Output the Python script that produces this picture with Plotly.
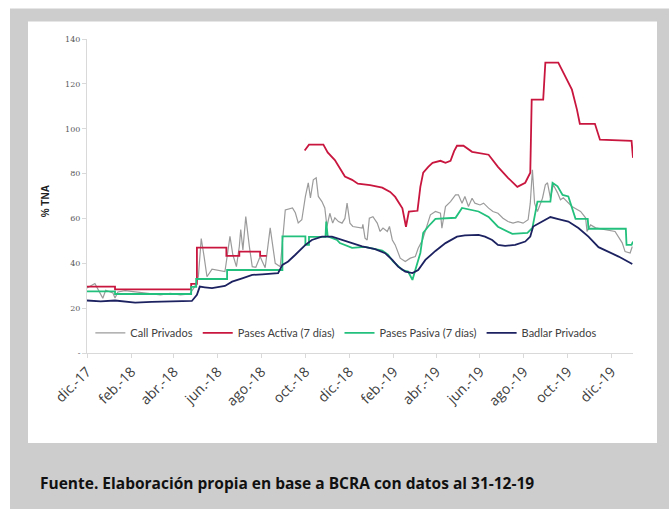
import plotly.graph_objects as go

# ---- Call Privados (daily interbank call rate, private banks) ----
call_dates = [
    "2017-12-01", "2017-12-12", "2017-12-19", "2017-12-23", "2017-12-27", "2018-01-06",
    "2018-01-09", "2018-01-13", "2018-01-23", "2018-02-13", "2018-02-27", "2018-03-13",
    "2018-03-27", "2018-04-10", "2018-04-23", "2018-04-30", "2018-05-05", "2018-05-09",
    "2018-05-13", "2018-05-17", "2018-05-24", "2018-06-01", "2018-06-11", "2018-06-15",
    "2018-06-18", "2018-06-22", "2018-06-27", "2018-07-01", "2018-07-03", "2018-07-06",
    "2018-07-10", "2018-07-15", "2018-07-19", "2018-07-24", "2018-07-30", "2018-08-02",
    "2018-08-06", "2018-08-13", "2018-08-20", "2018-08-27", "2018-08-31", "2018-09-03",
    "2018-09-13", "2018-09-17", "2018-09-21", "2018-09-26", "2018-10-01", "2018-10-05",
    "2018-10-08", "2018-10-12", "2018-10-16", "2018-10-19", "2018-10-24", "2018-10-28",
    "2018-10-31", "2018-11-04", "2018-11-08", "2018-11-11", "2018-11-16", "2018-11-21",
    "2018-11-25", "2018-11-28", "2018-12-02", "2018-12-06", "2018-12-19", "2018-12-20",
    "2018-12-23", "2018-12-26", "2018-12-29", "2019-01-03", "2019-01-09", "2019-01-13",
    "2019-01-17", "2019-01-23", "2019-01-26", "2019-01-30", "2019-02-03", "2019-02-06",
    "2019-02-10", "2019-02-17", "2019-02-24", "2019-03-03", "2019-03-07", "2019-03-13",
    "2019-03-20", "2019-03-24", "2019-03-31", "2019-04-07", "2019-04-09", "2019-04-14",
    "2019-04-21", "2019-04-28", "2019-05-02", "2019-05-07", "2019-05-11", "2019-05-16",
    "2019-05-21", "2019-05-25", "2019-06-01", "2019-06-06", "2019-06-13", "2019-06-19",
    "2019-06-26", "2019-07-03", "2019-07-10", "2019-07-17", "2019-07-24", "2019-07-31",
    "2019-08-07", "2019-08-10", "2019-08-13", "2019-08-16", "2019-08-20", "2019-08-27",
    "2019-08-31", "2019-09-03", "2019-09-07", "2019-09-11", "2019-09-17", "2019-09-21",
    "2019-09-25", "2019-10-07", "2019-10-19", "2019-10-26", "2019-10-28", "2019-11-02",
    "2019-11-09", "2019-11-22", "2019-12-06", "2019-12-16", "2019-12-20", "2019-12-27",
    "2019-12-30",
]
call_vals = [
    29.0, 31.0, 26.8, 24.4, 28.0, 26.8,
    24.5, 27.2, 27.8, 26.9, 26.2, 25.9,
    26.6, 25.9, 26.3, 29.6, 34.0, 51.0,
    43.0, 34.0, 37.4, 36.8, 36.3, 45.2,
    52.0, 43.8, 38.5, 47.5, 55.0, 46.0,
    60.8, 47.5, 38.5, 38.2, 43.0, 40.8,
    38.0, 55.8, 40.0, 38.5, 55.0, 63.8,
    64.7, 62.5, 58.0, 59.4, 69.8, 75.9,
    69.2, 77.2, 78.1, 69.8, 67.5, 64.7,
    56.4, 62.3, 57.9, 60.3, 58.6, 57.9,
    60.0, 66.8, 57.9, 56.4, 55.7, 57.4,
    51.2, 50.4, 60.1, 60.8, 57.9, 54.2,
    55.7, 54.2, 56.4, 50.4, 48.2, 45.2,
    42.3, 40.8, 42.3, 43.0, 46.7, 50.4,
    57.9, 61.6, 63.1, 62.3, 55.7, 65.3,
    67.5, 70.5, 70.5, 66.8, 69.8, 65.3,
    69.0, 66.8, 66.0, 66.8, 64.6, 63.1,
    62.3, 60.1, 58.6, 57.9, 58.6, 57.9,
    59.4, 66.8, 81.7, 66.8, 63.1, 69.0,
    75.0, 75.9, 69.2, 75.0, 71.4, 68.3,
    69.2, 65.3, 63.1, 60.3, 54.2, 57.1,
    55.8, 54.9, 54.2, 49.1, 45.2, 44.6,
    47.5,
]

# ---- Pases Activa (7 días): stepwise policy rate, gap Aug-Sep 2018 ----
activa_dates = [
    "2017-12-01", "2018-01-09", "2018-01-09", "2018-04-25", "2018-04-25", "2018-05-03",
    "2018-05-03", "2018-06-13", "2018-06-13", "2018-07-01", "2018-07-01", "2018-07-30",
    "2018-07-30", "2018-08-08", "2018-09-15",
    "2018-09-30", "2018-10-06", "2018-10-26", "2018-11-01", "2018-11-11", "2018-11-25",
    "2018-12-05", "2018-12-13", "2018-12-30", "2019-01-16", "2019-01-27", "2019-02-03",
    "2019-02-13", "2019-02-18", "2019-02-22", "2019-03-06", "2019-03-10", "2019-03-14",
    "2019-03-21", "2019-03-27", "2019-04-07", "2019-04-14", "2019-04-21", "2019-04-26",
    "2019-04-30", "2019-05-09", "2019-05-21", "2019-06-13", "2019-06-26", "2019-07-10",
    "2019-07-23", "2019-08-03", "2019-08-10", "2019-08-12", "2019-08-28", "2019-08-31",
    "2019-09-18", "2019-09-28", "2019-10-07", "2019-10-14", "2019-10-18", "2019-11-08",
    "2019-11-15", "2019-12-29", "2019-12-31",
]
activa_vals = [
    29.6, 29.6, 28.4, 28.4, 30.8, 30.8,
    47.0, 47.0, 43.3, 43.3, 45.2, 45.2,
    43.3, 43.3, None,
    90.3, 92.9, 92.9, 89.4, 86.0, 78.7,
    77.2, 75.5, 74.8, 73.7, 71.8, 69.6,
    64.5, 56.3, 63.0, 63.4, 74.1, 80.4,
    83.0, 84.8, 85.7, 84.8, 85.7, 90.0,
    92.4, 92.4, 89.7, 88.4, 83.0, 78.1,
    74.1, 75.9, 80.4, 113.0, 113.0, 129.5,
    129.5, 123.2, 117.4, 108.5, 102.2, 102.2,
    95.1, 94.6, 87.0,
]

# ---- Pases Pasiva (7 días) ----
pasiva_dates = [
    "2017-12-01", "2018-01-09", "2018-01-09", "2018-04-25", "2018-04-25", "2018-05-02",
    "2018-05-02", "2018-06-14", "2018-06-14", "2018-08-30", "2018-08-30", "2018-10-01",
    "2018-10-01", "2018-10-06", "2018-10-06", "2018-10-29", "2018-10-30", "2018-11-01",
    "2018-11-14", "2018-11-18", "2018-12-05", "2018-12-23", "2019-01-16", "2019-01-24",
    "2019-01-31", "2019-02-07", "2019-02-13", "2019-02-21", "2019-02-27", "2019-03-03",
    "2019-03-10", "2019-03-14", "2019-03-21", "2019-03-31", "2019-04-28", "2019-05-07",
    "2019-05-30", "2019-06-13", "2019-06-26", "2019-07-16", "2019-08-06", "2019-08-13",
    "2019-08-20", "2019-09-07", "2019-09-10", "2019-09-17", "2019-09-24", "2019-10-02",
    "2019-10-12", "2019-10-29", "2019-10-30", "2019-12-21", "2019-12-22", "2019-12-29",
    "2019-12-31",
]
pasiva_vals = [
    27.5, 27.5, 26.3, 26.3, 29.5, 29.5,
    33.0, 33.0, 37.0, 37.0, 52.0, 52.0,
    48.2, 48.2, 51.8, 51.8, 58.6, 52.0,
    50.4, 49.0, 46.9, 47.3, 45.7, 43.8,
    40.8, 38.5, 37.0, 36.3, 32.6, 37.0,
    44.6, 53.6, 56.4, 59.8, 60.3, 64.7,
    63.1, 60.7, 56.3, 53.1, 53.6, 55.8,
    67.5, 67.5, 75.9, 74.3, 70.5, 69.8,
    59.8, 59.8, 55.4, 55.4, 48.2, 48.2,
    49.7,
]

# ---- Badlar Privados ----
badlar_dates = [
    "2017-12-01", "2017-12-20", "2018-01-09", "2018-02-06", "2018-03-01", "2018-03-24",
    "2018-04-26", "2018-05-03", "2018-05-07", "2018-05-14", "2018-05-24", "2018-06-11",
    "2018-06-21", "2018-07-05", "2018-07-19", "2018-08-02", "2018-08-24", "2018-08-30",
    "2018-09-07", "2018-09-17", "2018-10-01", "2018-10-10", "2018-10-24", "2018-11-07",
    "2018-11-21", "2018-12-05", "2018-12-19", "2019-01-06", "2019-01-20", "2019-01-30",
    "2019-02-07", "2019-02-17", "2019-02-27", "2019-03-07", "2019-03-17", "2019-03-31",
    "2019-04-14", "2019-04-30", "2019-05-11", "2019-05-30", "2019-06-08", "2019-06-18",
    "2019-06-26", "2019-07-06", "2019-07-20", "2019-08-03", "2019-08-10", "2019-08-14",
    "2019-08-24", "2019-09-07", "2019-09-18", "2019-10-02", "2019-10-16", "2019-10-30",
    "2019-11-13", "2019-11-27", "2019-12-11", "2019-12-30",
]
badlar_vals = [
    23.4, 23.0, 23.4, 22.5, 22.8, 22.9,
    23.2, 25.9, 29.6, 29.3, 28.9, 29.9,
    31.8, 33.3, 34.8, 35.1, 35.6, 39.3,
    40.8, 43.8, 48.2, 50.4, 51.9, 51.9,
    50.4, 49.0, 47.5, 46.3, 44.5, 41.5,
    38.5, 36.3, 35.6, 37.0, 41.5, 45.5,
    49.0, 51.9, 52.4, 52.7, 51.9, 50.4,
    48.2, 47.8, 48.2, 49.7, 51.9, 56.4,
    58.2, 60.6, 59.7, 58.6, 55.7, 51.9,
    47.2, 45.2, 43.0, 39.7,
]

# ---- axis ticks ----
x_tick_dates = [
    "2017-12-01", "2018-02-01", "2018-04-01", "2018-06-01", "2018-08-01", "2018-10-01",
    "2018-12-01", "2019-02-01", "2019-04-01", "2019-06-01", "2019-08-01", "2019-10-01",
    "2019-12-01",
]
x_tick_labels = [
    "dic.-17", "feb.-18", "abr.-18", "jun.-18", "ago.-18", "oct.-18",
    "dic.-18", "feb.-19", "abr.-19", "jun.-19", "ago.-19", "oct.-19",
    "dic.-19",
]
y_tick_vals = [0, 20, 40, 60, 80, 100, 120, 140]
y_tick_labels = ["-", "20", "40", "60", "80", "100", "120", "140"]

fig = go.Figure()
fig.add_trace(go.Scatter(x=call_dates, y=call_vals, mode="lines", name="Call Privados",
                         line=dict(color="#9b9b9b", width=1.2)))
fig.add_trace(go.Scatter(x=activa_dates, y=activa_vals, mode="lines", name="Pases Activa (7 días)",
                         line=dict(color="#c8163f", width=1.8), connectgaps=False))
fig.add_trace(go.Scatter(x=pasiva_dates, y=pasiva_vals, mode="lines", name="Pases Pasiva (7 días)",
                         line=dict(color="#22c07c", width=1.8)))
fig.add_trace(go.Scatter(x=badlar_dates, y=badlar_vals, mode="lines", name="Badlar Privados",
                         line=dict(color="#1c2160", width=1.8)))

# plot area spans 546 x 313.6 px; frame shapes are placed relative to it
L, T, PW, PH = 87, 39.4, 546, 313.6
def px_x(v):
    return (v - L) / PW
def px_y(v):
    return (T + PH - v) / PH

fig.update_layout(
    width=669, height=509,
    margin=dict(l=L, r=669 - L - PW, t=T, b=509 - T - PH, autoexpand=False),
    paper_bgcolor="white",
    plot_bgcolor="rgba(0,0,0,0)",
    font=dict(family="Lato, Open Sans, sans-serif", color="#404040"),
    showlegend=True,
    legend=dict(orientation="h", x=0.475, xanchor="center", y=px_y(333), yanchor="middle",
                font=dict(size=11, color="#404040"), bgcolor="rgba(0,0,0,0)",
                itemwidth=30, tracegroupgap=0),
    shapes=[
        dict(type="rect", xref="paper", yref="paper", layer="below",
             x0=px_x(10), x1=px_x(680), y0=px_y(520), y1=px_y(9),
             fillcolor="#cdcdcd", line=dict(width=0)),
        dict(type="rect", xref="paper", yref="paper", layer="below",
             x0=px_x(28), x1=px_x(657), y0=px_y(443), y1=px_y(22),
             fillcolor="white", line=dict(width=0)),
    ],
    annotations=[
        dict(text="<b>% TNA</b>", xref="paper", yref="paper", x=px_x(38), y=px_y(202),
             textangle=-90, showarrow=False, font=dict(size=10, color="#202020",
             family="Liberation Sans, Arial, sans-serif")),
        dict(text="<b>Fuente. Elaboración propia en base a BCRA con datos al 31-12-19</b>",
             xref="paper", yref="paper", x=px_x(38), y=px_y(483), xanchor="left",
             yanchor="middle", showarrow=False,
             font=dict(size=15.5, color="#111111", family="Open Sans, sans-serif")),
    ],
)

fig.update_xaxes(
    type="date", range=["2017-12-01", "2019-12-31"],
    tickvals=x_tick_dates, ticktext=x_tick_labels, tickangle=-45,
    tickfont=dict(size=14, color="#404040", family="Open Sans, sans-serif"),
    showline=True, linecolor="#d9d9d9", linewidth=1,
    ticks="outside", ticklen=4, tickcolor="#d9d9d9",
    showgrid=False, zeroline=False,
)
fig.update_yaxes(
    range=[0, 140], tickvals=y_tick_vals, ticktext=y_tick_labels,
    tickfont=dict(size=8, color="#595959", family="DejaVu Serif, serif"),
    showline=True, linecolor="#d9d9d9", linewidth=1,
    ticks="outside", ticklen=4, tickcolor="#d9d9d9",
    showgrid=False, zeroline=False,
)

fig.write_html("out.html")
